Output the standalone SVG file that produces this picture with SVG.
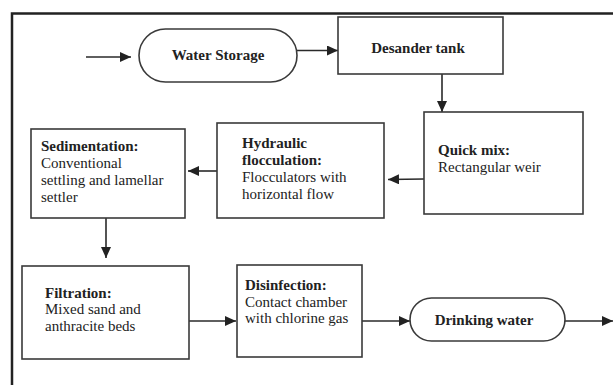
<svg xmlns="http://www.w3.org/2000/svg" width="613" height="385" viewBox="0 0 613 385">
<style>
.box{fill:#fff;stroke:#3a3a3a;stroke-width:1.6}
.t{font-family:"Liberation Serif","Times New Roman",serif;font-size:15px;fill:#222}
.b{font-weight:bold}
.c{stroke:#2a2a2a;stroke-width:1.6;fill:none;marker-end:url(#ah)}
.frame{stroke:#222;stroke-width:2.5;fill:none}
</style>
<defs>
<marker id="ah" markerUnits="userSpaceOnUse" markerWidth="12" markerHeight="10" refX="11" refY="5" orient="auto">
<path d="M0,0 L11,5 L0,10 Z" fill="#222"/>
</marker>
</defs>
<path class="frame" d="M12,385 L12,13.5 L613,13.5"/>
<g id="connectors">
<line class="c" x1="86" y1="57" x2="131" y2="57"/>
<line class="c" x1="297" y1="50.5" x2="338" y2="50.5"/>
<line class="c" x1="442" y1="74" x2="442" y2="112"/>
<line class="c" x1="424" y1="179" x2="388" y2="179.5"/>
<line class="c" x1="217" y1="171" x2="188" y2="171"/>
<line class="c" x1="106" y1="218" x2="106" y2="258"/>
<line class="c" x1="189" y1="321" x2="236" y2="321"/>
<line class="c" x1="362" y1="321" x2="410" y2="321"/>
<line class="c" x1="565" y1="321" x2="613" y2="321"/>
</g>
<g id="water-storage">
<rect class="box" x="139" y="29" width="158" height="53" rx="26.5" ry="26.5"/>
<text class="t b" x="218" y="60" text-anchor="middle">Water Storage</text>
</g>
<g id="desander">
<rect class="box" x="338" y="17" width="165" height="57"/>
<text class="t b" x="418" y="53" text-anchor="middle">Desander tank</text>
</g>
<g id="quick-mix">
<rect class="box" x="424" y="112" width="159" height="102"/>
<text class="t" x="438"><tspan class="b" x="438" y="155">Quick mix:</tspan><tspan x="438" y="172">Rectangular weir</tspan></text>
</g>
<g id="hydraulic">
<rect class="box" x="217" y="123" width="167" height="95"/>
<text class="t" x="242"><tspan class="b" x="242" y="148">Hydraulic</tspan><tspan class="b" x="242" y="165">flocculation:</tspan><tspan x="242" y="182">Flocculators with</tspan><tspan x="242" y="199">horizontal flow</tspan></text>
</g>
<g id="sedimentation">
<rect class="box" x="31" y="129" width="154" height="89"/>
<text class="t" x="41"><tspan class="b" x="41" y="151">Sedimentation:</tspan><tspan x="41" y="168">Conventional</tspan><tspan x="41" y="185">settling and lamellar</tspan><tspan x="41" y="202">settler</tspan></text>
</g>
<g id="filtration">
<rect class="box" x="22" y="266" width="167" height="93"/>
<text class="t" x="45"><tspan class="b" x="45" y="298">Filtration:</tspan><tspan x="45" y="314">Mixed sand and</tspan><tspan x="45" y="331">anthracite beds</tspan></text>
</g>
<g id="disinfection">
<rect class="box" x="237" y="265" width="125" height="92"/>
<text class="t" x="245"><tspan class="b" x="245" y="290">Disinfection:</tspan><tspan x="245" y="307">Contact chamber</tspan><tspan x="245" y="323">with chlorine gas</tspan></text>
</g>
<g id="drinking-water">
<rect class="box" x="410" y="298" width="155" height="43" rx="21.5" ry="21.5"/>
<text class="t b" x="484" y="325" text-anchor="middle">Drinking water</text>
</g>
</svg>
